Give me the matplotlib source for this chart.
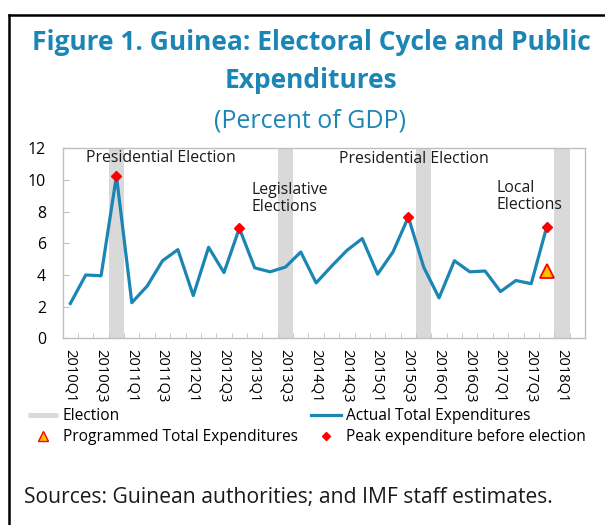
import numpy as np
import matplotlib
matplotlib.use('Agg')
import matplotlib.pyplot as plt
from matplotlib.lines import Line2D

# data
quarters = ['2010Q1', '2010Q2', '2010Q3', '2010Q4', '2011Q1', '2011Q2', '2011Q3', '2011Q4',
            '2012Q1', '2012Q2', '2012Q3', '2012Q4', '2013Q1', '2013Q2', '2013Q3', '2013Q4',
            '2014Q1', '2014Q2', '2014Q3', '2014Q4', '2015Q1', '2015Q2', '2015Q3', '2015Q4',
            '2016Q1', '2016Q2', '2016Q3', '2016Q4', '2017Q1', '2017Q2', '2017Q3', '2017Q4',
            '2018Q1', '2018Q2']
actual = [2.2, 4.0, 3.95, 10.25, 2.25, 3.3, 4.9, 5.6,
          2.7, 5.75, 4.15, 6.95, 4.45, 4.2, 4.5, 5.45,
          3.5, 4.55, 5.55, 6.3, 4.05, 5.45, 7.65, 4.5,
          2.55, 4.9, 4.2, 4.25, 2.95, 3.65, 3.45, 7.0]
election_quarters = ['2010Q4', '2013Q3', '2015Q4', '2018Q1']
peak_quarters = ['2010Q4', '2012Q4', '2015Q3', '2017Q4']
programmed_quarter = '2017Q4'
programmed_value = 4.25

annotations = [('Presidential Election', 1.05, 11.37),
               ('Legislative\nElections', 11.8, 8.82),
               ('Presidential Election', 17.5, 11.33),
               ('Local\nElections', 27.75, 8.95)]

blue = '#1B86B5'
grid_gray = '#BFBFBF'
band_gray = '#D9D9D9'

plt.rcParams['font.family'] = ['Open Sans', 'DejaVu Sans']

fig = plt.figure(figsize=(6.05, 5.25), dpi=100)
ax = fig.add_axes([0.1036, 0.3556, 0.8633, 0.3619])

x = np.arange(len(quarters))
idx = {q: i for i, q in enumerate(quarters)}

for q in election_quarters:
    ax.axvspan(idx[q] - 0.5, idx[q] + 0.5, color=band_gray, lw=0, zorder=1)

ax.plot(x[:len(actual)], actual, color=blue, lw=2.3, zorder=3)
peak_x = [idx[q] for q in peak_quarters]
peak_y = [actual[i] for i in peak_x]
ax.plot(peak_x, peak_y, 'D', color='#FF0000', markersize=5.5, zorder=4)
ax.plot([idx[programmed_quarter]], [programmed_value], '^', markerfacecolor='#FFC000',
        markeredgecolor='#FF0000', markeredgewidth=1.3, markersize=10, zorder=4)

for txt, tx, ty in annotations:
    ax.text(tx, ty, txt, fontsize=11.4, ha='left', va='center', color='#1A1A1A', linespacing=1.1)

ax.set_xlim(-0.5, len(quarters) - 0.5)
ax.set_ylim(0, 12)
ax.set_yticks(np.arange(0, 13, 2))
ax.set_xticks(x[::2])
ax.set_xticklabels(quarters[::2], rotation=270, fontsize=10.6)
ax.set_xticks(np.arange(-0.5, len(quarters), 1), minor=True)
ax.tick_params(axis='x', which='major', length=0, pad=8)
ax.tick_params(axis='x', which='minor', direction='in', length=3.5, color=grid_gray)
ax.tick_params(axis='y', direction='in', length=4.5, color=grid_gray, pad=12, labelsize=11.4)
for s in ax.spines.values():
    s.set_color(grid_gray)
    s.set_linewidth(1)

# titles
tx0 = 311 / 605
fig.text(tx0, 1 - 42 / 525, 'Figure 1. Guinea: Electoral Cycle and Public', ha='center', va='center',
         fontsize=19, fontweight='bold', color=blue)
fig.text(tx0, 1 - 81 / 525, 'Expenditures', ha='center', va='center',
         fontsize=19, fontweight='bold', color=blue)
fig.text(tx0 - 0.002, 1 - 121 / 525, '(Percent of GDP)', ha='center', va='center',
         fontsize=18, color=blue)

# legend, two columns
h_election = Line2D([], [], color=band_gray, lw=3.5, solid_capstyle='butt')
h_prog = Line2D([], [], ls='none', marker='^', markerfacecolor='#FFC000',
                markeredgecolor='#FF0000', markeredgewidth=1, markersize=7)
h_actual = Line2D([], [], color=blue, lw=2.3)
h_peak = Line2D([], [], ls='none', marker='D', color='#FF0000', markersize=4)

leg_kw = dict(loc='upper left', frameon=False, fontsize=11.2, borderpad=0, borderaxespad=0,
              handlelength=1.95, handletextpad=0.3, labelspacing=0.35)
fig.legend([h_election, h_prog], ['Election', 'Programmed Total Expenditures'],
           bbox_to_anchor=(28 / 605, 1 - 408 / 525), **leg_kw)
fig.legend([h_actual, h_peak], ['Actual Total Expenditures', 'Peak expenditure before election'],
           bbox_to_anchor=(311 / 605, 1 - 408 / 525), **leg_kw)

fig.text(24 / 605, 1 - 497 / 525, 'Sources: Guinean authorities; and IMF staff estimates.',
         ha='left', va='center', fontsize=15.2, color='#1A1A1A')

# black frame around the figure (left and top edges visible)
fig.add_artist(Line2D([9 / 605, 9 / 605], [0, 1 - 15 / 525], color='black', lw=1.8,
                      transform=fig.transFigure))
fig.add_artist(Line2D([9 / 605, 1], [1 - 15 / 525, 1 - 15 / 525], color='black', lw=1.8,
                      transform=fig.transFigure))

fig.savefig('out.png', dpi=100)
